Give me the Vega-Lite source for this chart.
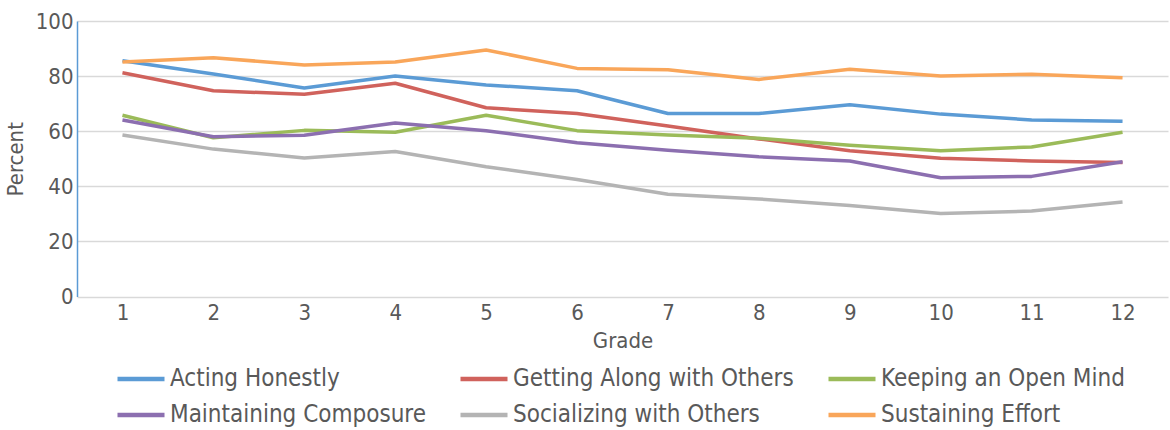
{
  "$schema": "https://vega.github.io/schema/vega-lite/v6.json",
  "autosize": "none",
  "width": 1091,
  "height": 275.5,
  "padding": {"left": 77, "top": 21, "right": 2, "bottom": 133.5},
  "background": "white",
  "data": {"values": [
    {"grade": 1, "skill": "Acting Honestly", "percent": 85.6},
    {"grade": 2, "skill": "Acting Honestly", "percent": 80.8},
    {"grade": 3, "skill": "Acting Honestly", "percent": 75.7},
    {"grade": 4, "skill": "Acting Honestly", "percent": 80.0},
    {"grade": 5, "skill": "Acting Honestly", "percent": 76.8},
    {"grade": 6, "skill": "Acting Honestly", "percent": 74.7},
    {"grade": 7, "skill": "Acting Honestly", "percent": 66.4},
    {"grade": 8, "skill": "Acting Honestly", "percent": 66.4},
    {"grade": 9, "skill": "Acting Honestly", "percent": 69.6},
    {"grade": 10, "skill": "Acting Honestly", "percent": 66.2},
    {"grade": 11, "skill": "Acting Honestly", "percent": 64.1},
    {"grade": 12, "skill": "Acting Honestly", "percent": 63.6},
    {"grade": 1, "skill": "Getting Along with Others", "percent": 81.2},
    {"grade": 2, "skill": "Getting Along with Others", "percent": 74.7},
    {"grade": 3, "skill": "Getting Along with Others", "percent": 73.4},
    {"grade": 4, "skill": "Getting Along with Others", "percent": 77.4},
    {"grade": 5, "skill": "Getting Along with Others", "percent": 68.5},
    {"grade": 6, "skill": "Getting Along with Others", "percent": 66.4},
    {"grade": 7, "skill": "Getting Along with Others", "percent": 61.9},
    {"grade": 8, "skill": "Getting Along with Others", "percent": 57.2},
    {"grade": 9, "skill": "Getting Along with Others", "percent": 52.9},
    {"grade": 10, "skill": "Getting Along with Others", "percent": 50.2},
    {"grade": 11, "skill": "Getting Along with Others", "percent": 49.2},
    {"grade": 12, "skill": "Getting Along with Others", "percent": 48.6},
    {"grade": 1, "skill": "Keeping an Open Mind", "percent": 65.8},
    {"grade": 2, "skill": "Keeping an Open Mind", "percent": 57.6},
    {"grade": 3, "skill": "Keeping an Open Mind", "percent": 60.3},
    {"grade": 4, "skill": "Keeping an Open Mind", "percent": 59.6},
    {"grade": 5, "skill": "Keeping an Open Mind", "percent": 65.8},
    {"grade": 6, "skill": "Keeping an Open Mind", "percent": 60.2},
    {"grade": 7, "skill": "Keeping an Open Mind", "percent": 58.6},
    {"grade": 8, "skill": "Keeping an Open Mind", "percent": 57.4},
    {"grade": 9, "skill": "Keeping an Open Mind", "percent": 54.9},
    {"grade": 10, "skill": "Keeping an Open Mind", "percent": 52.9},
    {"grade": 11, "skill": "Keeping an Open Mind", "percent": 54.3},
    {"grade": 12, "skill": "Keeping an Open Mind", "percent": 59.6},
    {"grade": 1, "skill": "Maintaining Composure", "percent": 64.1},
    {"grade": 2, "skill": "Maintaining Composure", "percent": 58.0},
    {"grade": 3, "skill": "Maintaining Composure", "percent": 58.5},
    {"grade": 4, "skill": "Maintaining Composure", "percent": 63.0},
    {"grade": 5, "skill": "Maintaining Composure", "percent": 60.2},
    {"grade": 6, "skill": "Maintaining Composure", "percent": 55.8},
    {"grade": 7, "skill": "Maintaining Composure", "percent": 53.1},
    {"grade": 8, "skill": "Maintaining Composure", "percent": 50.7},
    {"grade": 9, "skill": "Maintaining Composure", "percent": 49.2},
    {"grade": 10, "skill": "Maintaining Composure", "percent": 43.1},
    {"grade": 11, "skill": "Maintaining Composure", "percent": 43.6},
    {"grade": 12, "skill": "Maintaining Composure", "percent": 48.9},
    {"grade": 1, "skill": "Socializing with Others", "percent": 58.6},
    {"grade": 2, "skill": "Socializing with Others", "percent": 53.5},
    {"grade": 3, "skill": "Socializing with Others", "percent": 50.3},
    {"grade": 4, "skill": "Socializing with Others", "percent": 52.6},
    {"grade": 5, "skill": "Socializing with Others", "percent": 47.1},
    {"grade": 6, "skill": "Socializing with Others", "percent": 42.5},
    {"grade": 7, "skill": "Socializing with Others", "percent": 37.1},
    {"grade": 8, "skill": "Socializing with Others", "percent": 35.4},
    {"grade": 9, "skill": "Socializing with Others", "percent": 33.0},
    {"grade": 10, "skill": "Socializing with Others", "percent": 30.1},
    {"grade": 11, "skill": "Socializing with Others", "percent": 31.0},
    {"grade": 12, "skill": "Socializing with Others", "percent": 34.3},
    {"grade": 1, "skill": "Sustaining Effort", "percent": 85.1},
    {"grade": 2, "skill": "Sustaining Effort", "percent": 86.7},
    {"grade": 3, "skill": "Sustaining Effort", "percent": 84.0},
    {"grade": 4, "skill": "Sustaining Effort", "percent": 85.1},
    {"grade": 5, "skill": "Sustaining Effort", "percent": 89.5},
    {"grade": 6, "skill": "Sustaining Effort", "percent": 82.8},
    {"grade": 7, "skill": "Sustaining Effort", "percent": 82.3},
    {"grade": 8, "skill": "Sustaining Effort", "percent": 78.8},
    {"grade": 9, "skill": "Sustaining Effort", "percent": 82.5},
    {"grade": 10, "skill": "Sustaining Effort", "percent": 80.0},
    {"grade": 11, "skill": "Sustaining Effort", "percent": 80.7},
    {"grade": 12, "skill": "Sustaining Effort", "percent": 79.4}
  ]},
  "mark": {"type": "line", "strokeWidth": 3.5, "strokeJoin": "round"},
  "encoding": {
    "x": {
      "field": "grade", "type": "ordinal", "title": "Grade",
      "scale": {"type": "point", "padding": 0.5},
      "axis": {"labelAngle": 0, "domain": false, "ticks": false, "grid": false,
               "labelFontSize": 22, "labelPadding": 6, "titleFontSize": 22, "titlePadding": 7,
               "labelColor": "#595959", "titleColor": "#595959", "titleFontWeight": "normal"}
    },
    "y": {
      "field": "percent", "type": "quantitative", "title": "Percent",
      "scale": {"domain": [0, 100], "nice": false},
      "axis": {"values": [0, 20, 40, 60, 80, 100], "ticks": false,
               "domainColor": "#5B9BD5", "domainWidth": 1.5,
               "gridColor": "#D9D9D9", "gridWidth": 1.5,
               "labelFontSize": 22, "labelPadding": 4, "titleFontSize": 22, "titlePadding": 8,
               "labelColor": "#595959", "titleColor": "#595959", "titleFontWeight": "normal"}
    },
    "color": {
      "field": "skill", "type": "nominal", "title": null,
      "scale": {"range": ["#5B9BD5", "#D0625C", "#9BBB59", "#8C6FB0", "#B4B4B4", "#F9A65A"]},
      "legend": {"orient": "none", "legendX": 38, "legendY": 343, "columns": 3,
                 "direction": "horizontal", "symbolType": "stroke", "symbolSize": 2209,
                 "symbolStrokeWidth": 4.5, "labelFontSize": 24, "labelColor": "#595959",
                 "labelOffset": 3, "columnPadding": 32, "rowPadding": 6, "clipHeight": 30,
                 "padding": 0, "labelLimit": 400}
    }
  },
  "config": {
    "font": "DejaVu Sans Condensed",
    "view": {"stroke": null},
    "axis": {"labelFont": "DejaVu Sans Condensed", "titleFont": "DejaVu Sans Condensed"},
    "legend": {"labelFont": "DejaVu Sans Condensed"}
  }
}
